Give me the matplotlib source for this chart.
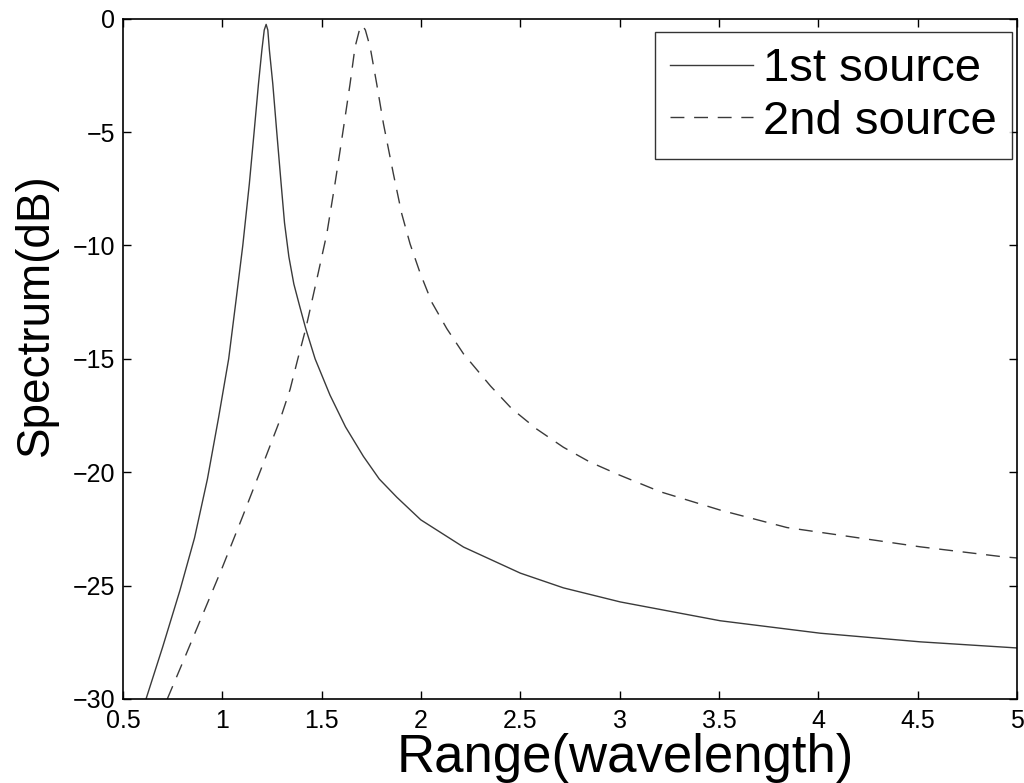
import matplotlib
matplotlib.use("Agg")
import matplotlib.pyplot as plt

# ---- data ----
src1_x = [0.616, 0.7, 0.787, 0.86, 0.925, 0.981, 1.032, 1.069, 1.103, 1.136,
          1.16, 1.182, 1.199, 1.211, 1.2205, 1.229, 1.237, 1.254, 1.274, 1.296,
          1.313, 1.335, 1.36, 1.39, 1.42, 1.467, 1.542, 1.62, 1.71, 1.79,
          1.878, 1.999, 2.214, 2.5, 2.717, 3.003, 3.506, 4.01, 4.513, 5.0]
src1_y = [-30.0, -27.7, -25.2, -22.9, -20.3, -17.6, -15.0, -12.42, -10.0, -7.28,
          -5.0, -2.87, -1.39, -0.5, -0.25, -0.5, -1.39, -2.87, -5.0, -7.28,
          -9.0, -10.5, -11.7, -12.7, -13.67, -15.0, -16.6, -18.0, -19.3, -20.3,
          -21.1, -22.1, -23.3, -24.45, -25.1, -25.72, -26.55, -27.1, -27.48, -27.75]

src2_x = [0.723, 0.8, 0.9, 1.0, 1.1, 1.2, 1.29, 1.341, 1.38, 1.42,
          1.483, 1.526, 1.567, 1.593, 1.618, 1.643, 1.668, 1.69, 1.705, 1.72,
          1.744, 1.777, 1.811, 1.861, 1.903, 1.945, 1.995, 2.054, 2.13, 2.214,
          2.35, 2.457, 2.583, 2.717, 2.85, 3.003, 3.204, 3.506, 3.842, 4.144,
          4.513, 4.93, 5.0]
src2_y = [-30.0, -28.4, -26.3, -24.2, -22.0, -19.75, -17.7, -16.35, -15.0, -13.67,
          -11.2, -9.48, -7.28, -5.8, -4.34, -2.87, -1.25, -0.5, -0.29, -0.5,
          -1.25, -2.87, -4.63, -6.84, -8.6, -9.93, -11.2, -12.5, -13.67, -14.78,
          -16.2, -17.2, -18.1, -18.9, -19.55, -20.14, -20.86, -21.67, -22.44, -22.82,
          -23.29, -23.73, -23.78]

series_labels = ["1st source", "2nd source"]
xticks = [0.5, 1, 1.5, 2, 2.5, 3, 3.5, 4, 4.5, 5]
xtick_labels = ["0.5", "1", "1.5", "2", "2.5", "3", "3.5", "4", "4.5", "5"]
yticks = [-30, -25, -20, -15, -10, -5, 0]
ytick_labels = ["\u221230", "\u221225", "\u221220", "\u221215", "\u221210", "\u22125", "0"]

plt.rcParams['font.family'] = ['Liberation Sans', 'DejaVu Sans']

fig = plt.figure(figsize=(10.24, 7.83), dpi=100)
ax = fig.add_axes([0.1201, 0.1073, 0.8731, 0.8688])

ax.plot(src1_x, src1_y, color='#3a3a3a', lw=1.0, linestyle='-', label=series_labels[0])
ax.plot(src2_x, src2_y, color='#3a3a3a', lw=1.0, linestyle=(0, (10, 7)), label=series_labels[1])

ax.set_xlim(0.5, 5)
ax.set_ylim(-30, 0)
ax.set_xticks(xticks)
ax.set_xticklabels(xtick_labels)
ax.set_yticks(yticks)
ax.set_yticklabels(ytick_labels)
ax.tick_params(direction='in', length=6, width=1.0, top=True, right=True,
               labelsize=18, colors='black')
ax.tick_params(axis='x', pad=7.5)
ax.tick_params(axis='y', pad=5.5)
for s in ax.spines.values():
    s.set_linewidth(1.2)
    s.set_color('black')

ax.set_xlabel("Range(wavelength)", fontsize=38)
ax.xaxis.label.set_va('baseline')
ax.xaxis.set_label_coords(0.5615, -0.1073)
ax.set_ylabel("Spectrum(dB)", fontsize=33)
ax.yaxis.label.set_va('center')
ax.yaxis.set_label_coords(-0.0973, 0.5652)

leg = ax.legend(loc='upper right', bbox_to_anchor=(0.9944, 0.9805), fontsize=34,
                frameon=True, fancybox=False, shadow=False, handlelength=1.75,
                handletextpad=0.22, borderpad=0.32, labelspacing=0.18,
                borderaxespad=0.0)
leg.get_frame().set_edgecolor('black')
leg.get_frame().set_linewidth(1.0)

fig.savefig("out.png", dpi=100)
